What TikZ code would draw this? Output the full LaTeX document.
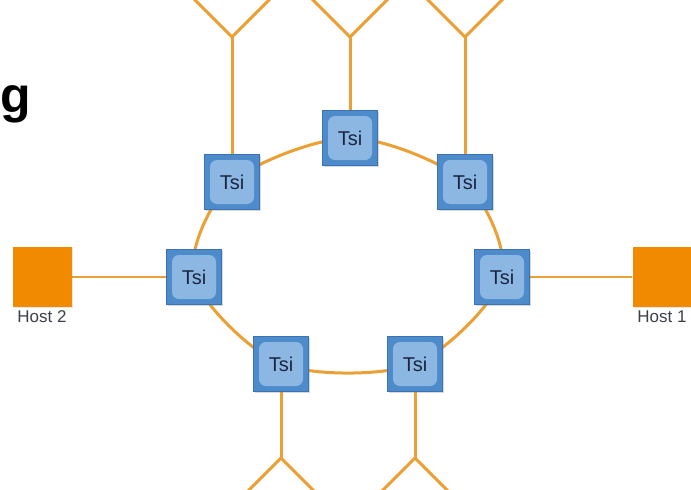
\documentclass[tikz,border=0pt]{standalone}
\usepackage{fontspec}
\setmainfont{Liberation Sans}
\usetikzlibrary{positioning,shadows,backgrounds}

\definecolor{wireorange}{HTML}{EBA035}
\definecolor{hostfill}{HTML}{F28A00}
\definecolor{tsiout}{HTML}{4E8BCB}
\definecolor{tsiedge}{HTML}{3B72B3}
\definecolor{tsiin}{HTML}{8DB7E3}
\definecolor{tsitext}{HTML}{1A2640}
\definecolor{lbltext}{HTML}{3C4048}

\tikzset{
  link/.style={draw=wireorange, line width=3pt},
  tsi/.style={draw=tsiedge, line width=1pt, fill=tsiout, minimum size=55pt,
    inner sep=0pt, text=tsitext, font=\fontsize{20}{20}\selectfont,
    drop shadow={opacity=0.3, shadow xshift=1.5pt, shadow yshift=-1.5pt},
    path picture={\fill[tsiin, rounded corners=7pt]
      ([shift={(5.5pt,5.5pt)}]path picture bounding box.south west) rectangle
      ([shift={(-5.5pt,-5.5pt)}]path picture bounding box.north east);}},
  host/.style={fill=hostfill, minimum width=59pt, minimum height=60pt, inner sep=0pt,
    drop shadow={opacity=0.2, shadow xshift=1pt, shadow yshift=-1pt}},
  hostlbl/.style={text=lbltext, font=\fontsize{17}{17}\selectfont, inner sep=1pt}
}

\begin{document}
\begin{tikzpicture}[x=1pt,y=-1pt]
	\useasboundingbox (0,0) rectangle (691,490);
	\clip (0,0) rectangle (691,490);
	% ring of tsi boxes
	\node[tsi] (top) at (350,138) {Tsi};
	\node[tsi] (tr) at (465,182) {Tsi};
	\node[tsi] (r) at (502,277) {Tsi};
	\node[tsi] (br) at (415,364) {Tsi};
	\node[tsi] (bl) at (281,364) {Tsi};
	\node[tsi] (l) at (194,277) {Tsi};
	\node[tsi] (tl) at (232,182) {Tsi};
	% hosts
	\node[host] (host2) at (42,277) {};
	\node[host] (host1) at (662,277) {};
	\node[hostlbl, below=2pt of host2] (host2lbl) {Host 2};
	\node[hostlbl, below=2pt of host1] (host1lbl) {Host 1};
	\node[anchor=base west, inner sep=0pt, font=\bfseries\fontsize{50}{50}\selectfont] (title) at (0.5,112) {g};

	\begin{pgfonlayer}{background}
		\draw[link] plot[smooth cycle] coordinates {(top) (tr) (r) (br) (bl) (l) (tl)};
		\draw[link, line width=2.5pt] (host2) -- (l);
		\draw[link, line width=2.5pt] (r) -- (host1);
		% antennas
		\foreach \n in {tl,top,tr} {
			\coordinate (\n fork) at (\n |- 0,37);
			\coordinate (\n a) at ([shift={(-42,-42)}]\n fork);
			\coordinate (\n b) at ([shift={(42,-42)}]\n fork);
			\draw[link] (\n.north) -- (\n fork);
			\draw[link, line join=miter] (\n a) -- (\n fork) -- (\n b);
		}
		\foreach \n in {bl,br} {
			\coordinate (\n fork) at (\n |- 0,458);
			\coordinate (\n a) at ([shift={(-40,40)}]\n fork);
			\coordinate (\n b) at ([shift={(40,40)}]\n fork);
			\draw[link] (\n.south) -- (\n fork);
			\draw[link, line join=miter] (\n a) -- (\n fork) -- (\n b);
		}
	\end{pgfonlayer}
\end{tikzpicture}
\end{document}
